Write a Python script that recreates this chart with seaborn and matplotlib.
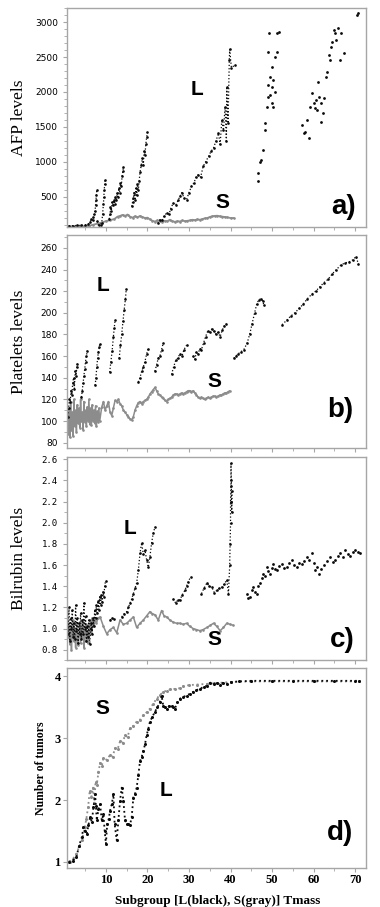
import numpy as np
import pandas as pd
import matplotlib
matplotlib.use("Agg")
import matplotlib.pyplot as plt
from matplotlib.ticker import MultipleLocator, NullFormatter
import seaborn as sns

nan = np.nan

# ---------------- panel a: AFP ----------------
a_L_x = [1.0, 2.0, 3.0, 4.0, 5.0, 5.8, 6.2, 6.5, 6.8, 7.0, 7.2, 7.4, 7.5, 7.6, 7.7, 7.8, nan,
         7.9, 8.3, 8.7, 9.0, 9.2, 9.4, 9.5, 9.6, 9.7, 9.8, nan,
         10.8, 11.0, 11.1, 11.3, 11.5, 11.7, 11.9, 12.1, 12.3, 12.5, 12.7, 12.9, 13.1, 13.3, 13.5,
         13.7, 13.9, 14.1, 14.2, nan,
         16.2, 16.4, 16.6, 16.8, 17.0, 17.2, 17.4, 17.6, 17.8, 18.0, 18.2, 18.5, 18.8, 19.0, 19.2,
         19.4, 19.6, 19.8, 20.0, nan,
         22.5, 23.0, 23.5, 24.0, 24.6, 25.2, 25.6, 26.2, 26.8, 27.4, 27.8, 28.3, 28.8, 29.4, 30.0,
         30.6, 31.2, 31.7, 32.2, 32.8, 33.4, 34.0, 34.7, 35.3, 35.9, 36.5, 37.1, 37.5, 37.9, 38.3,
         38.7, 39.0, 39.1, 39.4, 39.7, 39.8, 40.2, 41.1]
a_L_y = [85, 85, 88, 90, 95, 110, 140, 180, 160, 210, 250, 300, 380, 450, 520, 600, nan,
         150, 90, 100, 130, 250, 400, 500, 600, 680, 740, nan,
         180, 250, 350, 300, 420, 380, 450, 400, 500, 450, 550, 500, 620, 560, 700,
         650, 800, 870, 930, nan,
         360, 420, 480, 560, 450, 620, 520, 680, 600, 720, 850, 950, 1050, 950, 1150,
         1100, 1250, 1350, 1420, nan,
         120, 171, 160, 220, 266, 250, 330, 409, 380, 450, 504, 560, 480, 457, 560,
         647, 700, 780, 814, 780, 933, 1000, 1076, 1150, 1195, 1300, 1409, 1250, 1600, 1450,
         1790, 1300, 2076, 1550, 2457, 2609, 2350, 2385]
a_Lpts_x = [46.7, 46.7, 47.1, 47.3, 47.9, 48.3, 48.4, 48.7, 49.0, 49.0, 49.1, 49.2, 49.5, 49.9,
            49.9, 50.1, 50.3, 50.3, 50.7, 51.2, 51.2, 51.7, 50.6, 49.6,
            57.2, 57.6, 58.0, 58.8, 58.4, 59.2, 59.6, 60.0, 60.4, 60.6, 60.8, 61.0, 61.4, 61.8,
            61.9, 62.2, 62.6, 63.0, 63.3, 63.7, 64.0, 64.2, 64.5, 64.8, 65.1, 65.5, 65.9, 66.4,
            66.6, 67.2, 70.4, 70.8]
a_Lpts_y = [719, 838, 1004, 1028, 1171, 1457, 1552, 1790, 1933, 2100, 2576, 2838, 2219, 2362,
            1838, 2076, 2171, 1790, 2000, 2576, 2838, 2862, 2500, 1950,
            1528, 1409, 1433, 1338, 1600, 1790, 1981, 1838, 1766, 1885, 1743, 2147, 1933, 1838,
            1576, 1695, 1909, 2219, 2290, 2528, 2457, 2647, 2719, 2885, 2838, 2743, 2909, 2457,
            2838, 2552, 3100, 3124]
a_S_x = [1, 3, 5, 6, 7, 8, 9, 10, 11, 12, 12.8, 13.4, 14, 14.6, 15.2, 15.8, 16.4, 17, 17.6,
         18.2, 18.8, 19.4, 20, 20.6, 21.2, 21.8, 22.4, 23, 23.6, 24.2, 24.8, 25.4, 26, 26.6,
         27.2, 27.8, 28.4, 29, 29.6, 30.2, 30.8, 31.4, 32, 32.6, 33.2, 33.8, 34.4, 35, 35.6,
         36.2, 36.8, 37.4, 38, 38.6, 39.2, 40, 40.8]
a_S_y = [75, 75, 78, 85, 100, 115, 130, 150, 165, 180, 215, 225, 240, 225, 245, 215, 200, 220,
         205, 225, 210, 195, 200, 175, 155, 145, 160, 150, 140, 155, 150, 170, 150, 140,
         150, 145, 160, 150, 155, 160, 170, 165, 175, 170, 180, 190, 195, 210, 220,
         225, 228, 220, 215, 210, 205, 195, 195]

# ---------------- panel b: platelets ----------------
b_L_x = [0.8, 1.0, 1.2, 1.4, 1.6, 1.8, 2.0, 2.2, 2.4, 2.6, 2.8, 3.0, 3.1, nan,
         4.1, 4.3, 4.5, 4.7, 4.9, 5.1, 5.3, 5.5, nan,
         7.4, 7.6, 7.8, 8.0, 8.2, 8.4, 8.5, nan,
         10.9, 11.2, 11.5, 11.8, 12.0, 12.2, nan,
         13.2, 13.5, 13.8, 14.1, 14.4, 14.7, 14.9, nan,
         17.8, 18.2, 18.6, 19.0, 19.4, 19.8, 20.2, nan,
         21.8, 22.2, 22.6, 23.0, 23.4, 23.8, nan,
         25.8, 26.3, 26.8, 27.3, 27.8, 28.3, 28.8, 29.4, nan,
         31.0, 31.4, 31.8, 32.2, 32.6, 33.0, 33.5, 34.0, 34.5, 35.0, 35.5, 36.0, 36.5, 37.0,
         37.5, 38.0, 38.5, 39.0, nan,
         40.8, 41.3, 41.8, 42.5, 43.2, 44.0, 44.6, 45.2, 45.8, 46.3, 46.8, 47.3, 47.8, 48.0, nan,
         52.4, 53.5, 54.5, 55.5, 56.5, 57.5, 58.5, 59.5, 60.5, 61.5, 62.5, 63.5, 64.5, 65.5,
         66.5, 67.5, 68.5, 69.5, 70.2, 70.8]
b_L_y = [104, 112, 120, 118, 128, 124, 135, 140, 130, 146, 142, 150, 153, nan,
         122, 128, 135, 142, 148, 155, 160, 165, nan,
         133, 140, 150, 158, 164, 168, 171, nan,
         145, 155, 165, 178, 186, 193, nan,
         158, 170, 180, 192, 203, 213, 222, nan,
         136, 140, 146, 150, 155, 162, 167, nan,
         146, 152, 158, 160, 166, 172, nan,
         143, 150, 156, 158, 162, 160, 166, 170, nan,
         160, 157, 164, 162, 167, 166, 172, 178, 183, 182, 185, 183, 180, 182,
         178, 184, 188, 190, nan,
         158, 160, 162, 164, 166, 172, 180, 190, 200, 208, 212, 213, 211, 207, nan,
         189, 193, 197, 200, 204, 208, 213, 217, 220, 224, 228, 231, 236, 240,
         244, 246, 247, 249, 252, 245]
b_S_x = [0.7, 0.9, 1.1, 1.3, 1.5, 1.7, 1.9, 2.1, 2.3, 2.5, 2.7, 2.9, 3.1, 3.3, 3.5, 3.7, 3.9,
         4.1, 4.3, 4.5, 4.7, 4.9, 5.1, 5.3, 5.5, 5.7, 5.9, 6.1, 6.3, 6.5, 6.7, 6.9, 7.1, 7.3,
         7.5, 7.7, 7.9, 8.1, 8.3, 8.5, 9.0, 9.4, 9.8, 10.2, 10.6, 11.0, 11.4, 11.8, 12.2, 12.6,
         13.0, 13.4, 13.8, 14.2, 14.6, 15.0, 15.4, 15.8, 16.2, 16.6, 17.0, 17.4, 17.8, 18.2,
         18.6, 19.0, 19.4, 19.8, 20.2, 20.6, 21.0, 21.4, 21.8, 22.2, 22.6, 23.0, 23.4, 23.8,
         24.2, 24.6, 25.0, 25.4, 25.8, 26.2, 26.6, 27.0, 27.4, 27.8, 28.2, 28.6, 29.0, 29.4,
         29.8, 30.2, 30.6, 31.0, 31.4, 31.8, 32.2, 32.6, 33.0, 33.4, 33.8, 34.2, 34.6, 35.0,
         35.4, 35.8, 36.2, 36.6, 37.0, 37.4, 37.8, 38.2, 38.6, 39.0, 39.4, 39.8]
b_S_y = [100, 88, 112, 85, 118, 92, 108, 86, 120, 95, 110, 90, 115, 98, 112, 94, 120,
         100, 108, 92, 118, 99, 110, 95, 113, 100, 120, 97, 112, 96, 115, 100, 110, 98,
         114, 95, 109, 99, 112, 100, 113, 118, 110, 114, 118, 108, 105, 112, 119, 118,
         120, 116, 114, 110, 108, 106, 104, 102, 101, 104, 110, 114, 117, 118,
         116, 118, 119, 120, 122, 125, 127, 129, 131, 128, 125, 124, 122, 121,
         119, 118, 120, 121, 122, 124, 125, 125, 124, 125, 126, 125, 126, 127,
         128, 128, 127, 128, 126, 124, 122, 121, 122, 121, 120, 121, 122, 121,
         122, 123, 123, 122, 123, 124, 124, 125, 126, 126, 127, 128]

# ---------------- panel c: bilirubin ----------------
c_L_x = [0.7, 0.9, 1.1, 1.3, 1.5, 1.7, 1.9, 2.1, 2.3, 2.5, 2.7, 2.9, 3.1, 3.3, 3.5, 3.7, 3.9,
         4.1, 4.3, 4.5, 4.7, 4.9, 5.1, 5.3, 5.5, 5.7, 5.9, 6.1, 6.3, 6.5, 6.7, 6.9, 7.1, 7.3,
         7.5, 7.7, 7.9, 8.1, 8.3, 8.5, 8.7, 8.9, 9.1, 9.3, 9.5, 9.7, 9.9, nan,
         11.0, 11.5, 12.0, nan,
         13.8, 14.4, 15.0, 15.4, 15.8, 16.2, 16.6, 17.0, 17.4, 17.8, 18.2, 18.6, 19.0, 19.4,
         19.8, 20.2, 20.6, 21.0, 21.4, 21.8, nan,
         26.2, 26.8, 27.3, 27.8, 28.4, 29.0, 29.4, 29.8, 30.4, nan,
         33.0, 33.6, 34.3, 34.9, 35.5, 36.1, 36.7, 37.3, 37.9, 38.5, 39.1, 39.5, 39.8, 39.9,
         40.0, 40.0, 40.1, 40.1, 40.2, 40.2, 40.3, 40.4]
c_L_y = [1.15, 0.95, 1.20, 0.88, 1.10, 1.00, 1.18, 0.92, 1.05, 0.90, 1.22, 0.98, 1.10, 0.86,
         1.05, 0.95, 1.15, 0.90, 1.08, 0.95, 1.24, 1.00, 1.12, 0.88, 1.02, 0.92, 1.08, 0.85,
         1.00, 1.05, 0.95, 1.10, 1.02, 1.18, 1.10, 1.22, 1.15, 1.26, 1.18, 1.30, 1.22, 1.32,
         1.25, 1.35, 1.30, 1.40, 1.45, nan,
         1.08, 1.10, 1.09, nan,
         1.11, 1.14, 1.16, 1.20, 1.24, 1.28, 1.33, 1.38, 1.43, 1.55, 1.71, 1.81, 1.70, 1.74,
         1.65, 1.58, 1.68, 1.81, 1.90, 1.96, nan,
         1.28, 1.24, 1.27, 1.27, 1.32, 1.36, 1.40, 1.44, 1.49, nan,
         1.33, 1.38, 1.43, 1.40, 1.39, 1.34, 1.36, 1.38, 1.39, 1.42, 1.46, 1.33, 1.60, 1.80,
         2.00, 2.20, 2.35, 2.56, 2.40, 2.20, 2.10, 2.30]
c_Lpts_x = [43.9, 44.3, 44.7, 45.1, 45.5, 45.9, 46.3, 46.7, 47.1, 47.5, 47.9, 48.3, 48.7, 49.1,
            49.5, 49.9, 50.3, 50.7, 51.1, 51.7, 52.3, 52.9, 53.5, 54.1, 54.7, 55.3, 55.9,
            56.5, 57.1, 57.7, 58.4, 59.0, 59.6, 60.0, 60.4, 60.8, 61.2, 61.8, 62.4, 63.2,
            64.0, 64.6, 65.2, 65.8, 66.4, 67.0, 67.6, 68.2, 68.8, 69.4, 70.0, 70.6, 71.2]
c_Lpts_y = [1.33, 1.29, 1.30, 1.36, 1.39, 1.35, 1.33, 1.40, 1.43, 1.48, 1.52, 1.50, 1.58, 1.54,
            1.52, 1.57, 1.61, 1.56, 1.55, 1.59, 1.61, 1.57, 1.58, 1.62, 1.65, 1.60, 1.58,
            1.62, 1.61, 1.64, 1.68, 1.65, 1.71, 1.62, 1.55, 1.58, 1.52, 1.56, 1.60, 1.64,
            1.68, 1.63, 1.65, 1.69, 1.71, 1.68, 1.74, 1.70, 1.69, 1.72, 1.74, 1.72, 1.71]
c_S_x = [0.7, 0.9, 1.1, 1.3, 1.5, 1.7, 1.9, 2.1, 2.3, 2.5, 2.7, 2.9, 3.1, 3.3, 3.5, 3.7, 3.9,
         4.1, 4.3, 4.5, 4.7, 4.9, 5.1, 5.3, 5.5, 5.7, 5.9, 6.1, 6.3, 6.5, 6.7, 6.9, 7.3, 7.7,
         8.1, 8.6, 9.4, 10.2, 11.0, 11.8, 12.6, 13.4, 14.2, 15.0, 15.8, 16.6, 17.4, 18.2,
         19.0, 19.8, 20.6, 21.2, 21.8, 22.6, 23.4, 24.0, 24.6, 25.4, 26.2, 27.0, 27.8, 28.6,
         29.4, 30.2, 31.0, 31.8, 32.6, 33.4, 34.3, 35.1, 35.9, 36.7, 37.5, 38.3, 39.1, 39.9,
         40.7]
c_S_y = [1.00, 0.92, 1.05, 0.85, 1.02, 0.80, 0.98, 1.08, 0.88, 1.00, 0.82, 0.95, 1.05, 0.84,
         0.96, 1.02, 0.86, 1.00, 0.92, 1.06, 0.82, 0.96, 1.04, 0.88, 0.98, 0.86, 1.04, 0.95,
         1.08, 0.96, 1.10, 1.02, 1.08, 1.05, 1.10, 1.11, 1.02, 0.95, 0.99, 1.01, 0.96, 1.08,
         1.04, 1.05, 1.08, 1.11, 1.01, 1.05, 1.08, 1.12, 1.16, 1.14, 1.13, 1.08, 1.17, 1.12,
         1.11, 1.08, 1.06, 1.05, 1.05, 1.04, 1.05, 1.02, 1.00, 0.99, 0.98, 0.99, 1.01, 1.03,
         1.05, 1.02, 0.98, 1.01, 1.05, 1.04, 1.03]

# ---------------- panel d: number of tumors ----------------
d_L_x = [1.0, 2.0, 2.9, 3.5, 4.2, 4.6, 5.0, 5.4, 5.8, 6.2, 6.6, 7.0, 7.4, 7.6, 7.8, 8.2, 8.6,
         9.0, 9.4, 9.7, 10.0, 10.3, 10.7, 11.0, 11.4, 11.8, 12.1, 12.6, 13.0, 13.4, 13.8,
         14.2, 14.6, 15.0, 15.4, 15.8, 16.2, 16.6, 17.0, 17.4, 17.8, 18.2, 18.6, 19.0, 19.4,
         19.8, 20.2, 20.6, 21.2, 21.8, 22.4, 23.0, 23.4, 23.8, 24.2, 24.6, 25.2, 25.8, 26.2,
         26.6, 27.2, 27.8, 28.6, 29.4, 30.2, 31.0, 31.8, 32.6, 33.5, 34.3, 35.1, 35.9, 36.7,
         37.5, 38.3, 39.1, 40.0, 42.0, 45.0, 50.0, 55.0, 60.0, 65.0, 70.0, 71.0]
d_L_y = [1.00, 1.02, 1.08, 1.25, 1.40, 1.56, 1.50, 1.45, 1.60, 1.72, 1.65, 1.88, 2.09, 1.90,
         1.67, 1.85, 1.93, 1.67, 1.77, 1.50, 1.29, 1.61, 1.70, 1.83, 1.93, 2.09, 1.61, 1.35,
         1.67, 1.99, 2.20, 1.99, 1.67, 1.62, 1.61, 1.60, 1.72, 2.04, 2.10, 2.20, 2.40, 2.63,
         2.70, 2.79, 2.90, 3.05, 3.15, 3.27, 3.35, 3.43, 3.50, 3.59, 3.69, 3.53, 3.50, 3.48,
         3.52, 3.53, 3.50, 3.48, 3.58, 3.64, 3.67, 3.69, 3.72, 3.75, 3.78, 3.80, 3.83, 3.85,
         3.90, 3.88, 3.90, 3.87, 3.90, 3.88, 3.91, 3.92, 3.93, 3.93, 3.93, 3.93, 3.93, 3.93,
         3.93]
d_S_x = [1.3, 2.1, 2.9, 3.6, 4.2, 4.9, 5.3, 5.7, 6.1, 6.5, 6.9, 7.2, 7.5, 7.8, 8.2, 8.6, 9.0,
         9.4, 10.2, 11.0, 11.6, 12.2, 12.8, 13.4, 14.0, 14.6, 15.2, 15.8, 16.6, 17.4, 18.2,
         19.0, 19.8, 20.6, 21.4, 22.2, 23.0, 23.8, 24.6, 25.4, 26.6, 27.8, 28.6, 30.0, 32.0,
         34.3, 36.0, 38.0, 40.0, 45.0, 50.0, 60.0, 71.0]
d_S_y = [1.00, 1.05, 1.13, 1.25, 1.35, 1.56, 1.70, 1.88, 2.15, 2.05, 2.20, 1.95, 2.30, 2.25,
         2.45, 2.60, 2.55, 2.68, 2.65, 2.73, 2.70, 2.84, 2.82, 2.95, 2.92, 3.05, 3.02, 3.16,
         3.20, 3.27, 3.30, 3.37, 3.42, 3.48, 3.56, 3.64, 3.70, 3.75, 3.77, 3.79, 3.80, 3.81,
         3.84, 3.86, 3.87, 3.88, 3.89, 3.90, 3.91, 3.92, 3.92, 3.92, 3.92]

sns.set_style("ticks")
plt.rcParams["font.family"] = ["Liberation Sans", "DejaVu Sans"]
plt.rcParams["text.color"] = "black"
plt.rcParams["axes.labelcolor"] = "black"
plt.rcParams["xtick.color"] = "black"
plt.rcParams["ytick.color"] = "black"

BLACK = "#0a0a0a"
GRAY = "#8c8c8c"
FRAME = "#a6a6a6"


def trace(ax, xs, ys, color, ms=1.9, ls=":", lw=0.9):
    # split at NaN so separate streaks are not joined
    df = pd.DataFrame({"x": xs, "y": ys})
    df["seg"] = df["y"].isna().cumsum()
    df = df.dropna()
    sns.lineplot(data=df, x="x", y="y", units="seg", estimator=None, sort=False,
                 color=color, linewidth=lw, linestyle=ls, marker="o", markersize=ms,
                 markeredgewidth=0, ax=ax, legend=False)


def points(ax, xs, ys, color, s=4):
    sns.scatterplot(x=xs, y=ys, color=color, s=s, linewidth=0, ax=ax, legend=False)


fig = plt.figure(figsize=(3.8, 9.07), dpi=100)
left, width = 0.176, 0.787
ax_a = fig.add_axes([left, 0.750, width, 0.241])
ax_b = fig.add_axes([left, 0.506, width, 0.235])
ax_c = fig.add_axes([left, 0.272, width, 0.224])
ax_d = fig.add_axes([left, 0.043, width, 0.220])

trace(ax_a, a_S_x, a_S_y, GRAY, ls="-", lw=1.3)
trace(ax_a, a_L_x, a_L_y, BLACK)
points(ax_a, a_Lpts_x, a_Lpts_y, BLACK)

trace(ax_b, b_S_x, b_S_y, GRAY, ls="-", lw=1.1)
trace(ax_b, b_L_x, b_L_y, BLACK)

trace(ax_c, c_S_x, c_S_y, GRAY, ls="-", lw=1.1)
trace(ax_c, c_L_x, c_L_y, BLACK)
points(ax_c, c_Lpts_x, c_Lpts_y, BLACK)

trace(ax_d, d_S_x, d_S_y, GRAY, ms=2.2, ls=":", lw=1.3)
trace(ax_d, d_L_x, d_L_y, BLACK, ms=2.2, ls=":", lw=1.3)

serif = ["Liberation Serif", "DejaVu Serif"]

ax_a.set_ylim(70, 3200)
ax_a.yaxis.set_major_locator(MultipleLocator(500))
ax_a.yaxis.set_minor_locator(MultipleLocator(100))
ax_a.set_yticks([500, 1000, 1500, 2000, 2500, 3000])
ax_a.set_ylabel("AFP levels", family=serif, fontsize=12.5)

ax_b.set_ylim(75, 272)
ax_b.yaxis.set_major_locator(MultipleLocator(20))
ax_b.yaxis.set_minor_locator(MultipleLocator(10))
ax_b.set_ylabel("Platelets levels", family=serif, fontsize=12.5)

ax_c.set_ylim(0.70, 2.62)
ax_c.yaxis.set_major_locator(MultipleLocator(0.2))
ax_c.yaxis.set_minor_locator(MultipleLocator(0.1))
ax_c.set_ylabel("Bilrubin levels", family=serif, fontsize=12.5)

ax_d.set_ylim(0.9, 4.13)
ax_d.yaxis.set_major_locator(MultipleLocator(1))
ax_d.set_ylabel("Number of tumors", family=serif, fontsize=8.5, fontweight="bold")
ax_d.set_xlabel("Subgroup [L(black), S(gray)] Tmass", family=serif, fontsize=9.5,
                fontweight="bold")

for ax in (ax_a, ax_b, ax_c, ax_d):
    ax.set_xlim(0.6, 72.6)
    ax.xaxis.set_major_locator(MultipleLocator(10))
    ax.xaxis.set_minor_locator(MultipleLocator(5))
    for sp in ax.spines.values():
        sp.set_visible(True)
        sp.set_color(FRAME)
        sp.set_linewidth(1.0)
    ax.tick_params(which="major", length=3, color=FRAME, width=0.8)
    ax.tick_params(which="minor", length=2, color=FRAME, width=0.6)
    ax.yaxis.set_label_coords(-0.134, 0.5)

for ax in (ax_a, ax_b, ax_c):
    ax.set_xlabel("")
    ax.xaxis.set_major_formatter(NullFormatter())

for lab in ax_a.get_yticklabels() + ax_b.get_yticklabels():
    lab.set_family("DejaVu Sans")
    lab.set_fontsize(6.5)
for lab in ax_c.get_yticklabels():
    lab.set_family("DejaVu Sans Mono")
    lab.set_fontsize(6.5)
for lab in ax_d.get_yticklabels() + ax_d.get_xticklabels():
    lab.set_family(serif)
    lab.set_fontsize(9)
    lab.set_fontweight("bold")
ax_d.tick_params(axis="y", which="minor", length=0)
ax_d.tick_params(axis="both", pad=1.5)
ax_d.yaxis.set_label_coords(-0.067, 0.5)
ax_d.xaxis.set_label_coords(0.505, -0.135)

big = dict(fontsize=15, fontweight="bold", ha="center", va="center", color="black")
tag = dict(fontsize=20, fontweight="bold", ha="center", va="center", color="black")
ax_a.text(0.435, 0.626, "L", transform=ax_a.transAxes, **big)
ax_a.text(0.52, 0.11, "S", transform=ax_a.transAxes, **big)
ax_a.text(0.925, 0.09, "a)", transform=ax_a.transAxes, **tag)
ax_b.text(0.12, 0.765, "L", transform=ax_b.transAxes, **big)
ax_b.text(0.495, 0.31, "S", transform=ax_b.transAxes, **big)
ax_b.text(0.913, 0.18, "b)", transform=ax_b.transAxes, **tag)
ax_c.text(0.21, 0.65, "L", transform=ax_c.transAxes, **big)
ax_c.text(0.495, 0.10, "S", transform=ax_c.transAxes, **big)
ax_c.text(0.92, 0.10, "c)", transform=ax_c.transAxes, **tag)
ax_d.text(0.12, 0.80, "S", transform=ax_d.transAxes, **big)
ax_d.text(0.33, 0.39, "L", transform=ax_d.transAxes, **big)
ax_d.text(0.913, 0.175, "d)", transform=ax_d.transAxes, **tag)

fig.savefig("out.png", dpi=100)
